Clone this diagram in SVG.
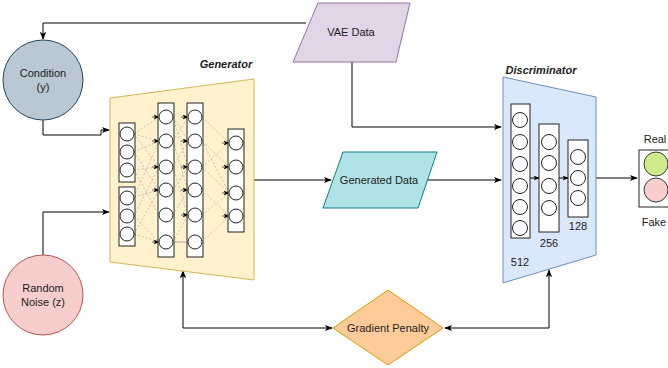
<svg xmlns="http://www.w3.org/2000/svg" width="668" height="368" viewBox="0 0 668 368">
<defs>
<marker id="arr" viewBox="0 0 10 10" refX="9" refY="5" markerWidth="8" markerHeight="8" markerUnits="userSpaceOnUse" orient="auto-start-reverse"><path d="M0,1 L10,5 L0,9 L2.5,5 Z" fill="#000"/></marker>
<marker id="sarr" viewBox="0 0 10 10" refX="9" refY="5" markerWidth="6" markerHeight="6" markerUnits="userSpaceOnUse" orient="auto"><path d="M0,1 L10,5 L0,9 L2.5,5 Z" fill="#000"/></marker>
</defs>
<style>
text{font-family:"Liberation Sans",Arial,sans-serif;font-size:11px;fill:#222}
.lbl{font-weight:bold;font-style:italic}
.col{fill:#fff;stroke:#222;stroke-width:1}
.n{fill:#fff;stroke:#222;stroke-width:1}
.edge{fill:none;stroke:#000;stroke-width:1}
.dash{fill:none;stroke:#a99;stroke-width:0.6;stroke-dasharray:2,2}
</style>

<g id="connectors">
<path class="edge" d="M306,23 H43 V39" marker-end="url(#arr)"/>
<path class="edge" d="M352,61 V127 H501" marker-end="url(#arr)"/>
<path class="edge" d="M43,120 V135 H101 V130 H109" marker-end="url(#arr)"/>
<path class="edge" d="M43,255 V212 H109" marker-end="url(#arr)"/>
<path class="edge" d="M254,180 H331" marker-end="url(#arr)"/>
<path class="edge" d="M427,180 H501" marker-end="url(#arr)"/>
<path class="edge" d="M596,178 H637" marker-end="url(#arr)"/>
<path class="edge" d="M183,271 V328 H332" marker-start="url(#arr)" marker-end="url(#arr)"/>
<path class="edge" d="M445,328 H549 V270" marker-start="url(#arr)" marker-end="url(#arr)"/>
</g>

<g id="vae-data">
<polygon points="318,3 410,3 396,62 293,62" fill="#e1d5e7" stroke="#9673a6"/>
<text x="351" y="36" text-anchor="middle">VAE Data</text>
</g>

<g id="condition">
<circle cx="43" cy="80" r="40" fill="#bac8d3" stroke="#23445d"/>
<text x="43" y="77" text-anchor="middle">Condition</text>
<text x="43" y="91" text-anchor="middle">(y)</text>
</g>

<g id="random-noise">
<circle cx="43" cy="295" r="40" fill="#f8cecc" stroke="#b85450"/>
<text x="43" y="292" text-anchor="middle">Random</text>
<text x="43" y="306" text-anchor="middle">Noise (z)</text>
</g>

<g id="generator">
<polygon points="110,98 254,79 254,280 110,262" fill="#fff2cc" stroke="#d6b656"/>
<text class="lbl" x="226" y="68" text-anchor="middle">Generator</text>
<path class="dash" d="M134,134 L159,117 M134,134 L159,141 M134,134 L159,167 M134,152 L159,141 M134,152 L159,190 M134,170 L159,167 M134,170 L159,215 M134,197 L159,141 M134,197 L159,190 M134,216 L159,167 M134,216 L159,242 M134,234 L159,242 M134,234 L159,190"/>
<path class="dash" d="M173,117 L188,141 M173,141 L188,117 M173,141 L188,190 M173,167 L188,141 M173,167 L188,215 M173,190 L188,167 M173,215 L188,190 M173,117 L188,167 M173,242 L188,215"/>
<path class="dash" d="M202,117 L229,143 M202,141 L229,167 M202,167 L229,143 M202,167 L229,193 M202,190 L229,216 M202,215 L229,193 M202,242 L229,216 M202,141 L229,193"/>
<path d="M173,242 H188" stroke="#999" stroke-width="0.8"/>
<g fill="none">
<path d="M152,117 H159" stroke="#000" stroke-width="0.6" marker-end="url(#sarr)"/>
<path d="M152,141 H159" stroke="#000" stroke-width="0.6" marker-end="url(#sarr)"/>
<path d="M152,167 H159" stroke="#000" stroke-width="0.6" marker-end="url(#sarr)"/>
<path d="M152,190 H159" stroke="#000" stroke-width="0.6" marker-end="url(#sarr)"/>
<path d="M152,242 H159" stroke="#000" stroke-width="0.6" marker-end="url(#sarr)"/>
<path d="M181,117 H188" stroke="#000" stroke-width="0.6" marker-end="url(#sarr)"/>
<path d="M181,141 H188" stroke="#000" stroke-width="0.6" marker-end="url(#sarr)"/>
<path d="M181,167 H188" stroke="#000" stroke-width="0.6" marker-end="url(#sarr)"/>
<path d="M181,190 H188" stroke="#000" stroke-width="0.6" marker-end="url(#sarr)"/>
<path d="M181,215 H188" stroke="#000" stroke-width="0.6" marker-end="url(#sarr)"/>
<path d="M222,143 H229" stroke="#000" stroke-width="0.6" marker-end="url(#sarr)"/>
<path d="M222,167 H229" stroke="#000" stroke-width="0.6" marker-end="url(#sarr)"/>
<path d="M222,193 H229" stroke="#000" stroke-width="0.6" marker-end="url(#sarr)"/>
<path d="M222,216 H229" stroke="#000" stroke-width="0.6" marker-end="url(#sarr)"/>
</g>
<rect class="col" x="119" y="123" width="16" height="59"/>
<rect class="col" x="119" y="187" width="16" height="59"/>
<rect class="col" x="158" y="103" width="16" height="154"/>
<rect class="col" x="187" y="103" width="16" height="154"/>
<rect class="col" x="228" y="129" width="16" height="103"/>
<g class="n">
<circle cx="127" cy="134" r="7"/><circle cx="127" cy="152" r="7"/><circle cx="127" cy="170" r="7"/>
<circle cx="127" cy="198" r="7"/><circle cx="127" cy="216" r="7"/><circle cx="127" cy="234" r="7"/>
<circle cx="166" cy="117" r="7"/><circle cx="166" cy="141" r="7"/><circle cx="166" cy="167" r="7"/><circle cx="166" cy="190" r="7"/><circle cx="166" cy="215" r="7"/><circle cx="166" cy="242" r="7"/>
<circle cx="195" cy="117" r="7"/><circle cx="195" cy="141" r="7"/><circle cx="195" cy="167" r="7"/><circle cx="195" cy="190" r="7"/><circle cx="195" cy="215" r="7"/><circle cx="195" cy="242" r="7"/>
<circle cx="236" cy="143" r="7"/><circle cx="236" cy="167" r="7"/><circle cx="236" cy="193" r="7"/><circle cx="236" cy="216" r="7"/>
</g>
</g>

<g id="generated-data">
<polygon points="343,152 437,152 418,208 323,208" fill="#b0e3e6" stroke="#0e8088"/>
<text x="379" y="184" text-anchor="middle">Generated Data</text>
</g>

<g id="discriminator">
<polygon points="503,77 596,97 596,255 503,283" fill="#dae8fc" stroke="#6c8ebf"/>
<text class="lbl" x="541" y="74" text-anchor="middle">Discriminator</text>
<rect class="col" x="511" y="104" width="19" height="134"/>
<rect class="col" x="539" y="124" width="20" height="108"/>
<rect class="col" x="568" y="140" width="20" height="77"/>
<path class="edge" d="M530,178 H539" marker-end="url(#sarr)"/>
<path class="edge" d="M559,178 H568" marker-end="url(#sarr)"/>
<g class="n">
<circle cx="520" cy="120" r="7.5"/><circle cx="520" cy="142" r="7.5"/><circle cx="520" cy="164" r="7.5"/><circle cx="520" cy="186" r="7.5"/><circle cx="520" cy="207" r="7.5"/><circle cx="520" cy="228" r="7.5"/>
<circle cx="549" cy="142" r="7.5"/><circle cx="549" cy="163" r="7.5"/><circle cx="549" cy="186" r="7.5"/><circle cx="549" cy="208" r="7.5"/>
<circle cx="578" cy="157" r="7.5"/><circle cx="578" cy="178" r="7.5"/><circle cx="578" cy="198" r="7.5"/>
</g>
<text x="520" y="266" text-anchor="middle">512</text>
<text x="549" y="247" text-anchor="middle">256</text>
<text x="578" y="230" text-anchor="middle">128</text>
</g>

<g id="real-fake">
<rect x="639" y="150" width="34" height="57" fill="#fff" stroke="#222"/>
<circle cx="656" cy="164" r="12" fill="#cdeb8b" stroke="#36393d"/>
<circle cx="656" cy="190" r="12" fill="#f8cecc" stroke="#36393d"/>
<text x="655" y="143" text-anchor="middle">Real</text>
<text x="654" y="226" text-anchor="middle">Fake</text>
</g>

<g id="gradient-penalty">
<polygon points="388,290 443,328 388,365 333,328" fill="#ffcc99" stroke="#d79b00"/>
<text x="388" y="332" text-anchor="middle">Gradient Penalty</text>
</g>
</svg>
